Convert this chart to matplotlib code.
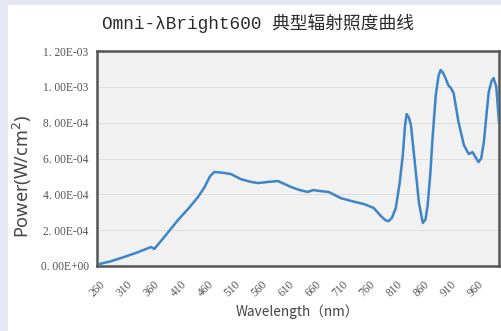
import matplotlib
matplotlib.use("Agg")
import matplotlib.pyplot as plt
from matplotlib.ticker import FuncFormatter, FixedLocator
from matplotlib.patches import Rectangle

wavelength = [260, 280, 306, 330, 356, 362, 380, 406, 425, 443, 455, 465, 473, 490, 504,
              522, 540, 554, 575, 591, 605, 615, 630, 646, 656, 670, 685, 707, 730, 750,
              768, 781, 790, 796, 802, 809, 816, 822, 826, 829, 833, 837, 846, 852, 859,
              864, 868, 873, 877, 883, 888, 892, 896, 901, 906, 911, 916, 925, 935, 944,
              951, 956, 962, 967, 972, 977, 981, 986, 990, 995, 1000]
power_e4 = [0.11, 0.25, 0.50, 0.75, 1.06, 0.95, 1.6, 2.57, 3.2, 3.85, 4.4, 5.0, 5.25, 5.2, 5.13,
            4.85, 4.7, 4.63, 4.7, 4.74, 4.55, 4.41, 4.25, 4.13, 4.24, 4.18, 4.13, 3.79, 3.6, 3.46,
            3.24, 2.8, 2.55, 2.51, 2.7, 3.24, 4.6, 6.2, 7.8, 8.48, 8.3, 7.87, 5.25, 3.5, 2.4,
            2.6, 3.4, 5.2, 7.14, 9.54, 10.6, 10.94, 10.8, 10.49, 10.1, 9.93, 9.65, 8.04, 6.75, 6.25,
            6.36, 6.1, 5.8, 6.0, 6.92, 8.5, 9.71, 10.3, 10.49, 10.0, 8.0]
power = [v * 1e-4 for v in power_e4]

x_ticks = list(range(260, 961, 50))
y_ticks = [0, 2e-4, 4e-4, 6e-4, 8e-4, 1e-3, 1.2e-3]

title = "Omni-λBright600 典型辐射照度曲线"
xlabel = "Wavelength（nm）"
ylabel = "Power(W/cm$^2$)"

fig = plt.figure(figsize=(5.02, 3.31), dpi=100)
fig.patch.set_facecolor("#e6e8f3")
fig.add_artist(Rectangle((8 / 502, 0), 1 - 8 / 502, 1 - 5 / 331,
                         transform=fig.transFigure, facecolor="white",
                         edgecolor="none", zorder=-10))

ax = fig.add_axes([97 / 502, (331 - 266) / 331, 402 / 502, 215 / 331])
ax.set_zorder(2)
ax.set_facecolor("#f1f1f1")
ax.plot(wavelength, power, color="#3d85c6", lw=1.8, zorder=3,
        solid_joinstyle="round")

ax.set_xlim(256, 1000)
ax.set_ylim(0, 1.2e-3)
ax.xaxis.set_major_locator(FixedLocator(x_ticks))
ax.yaxis.set_major_locator(FixedLocator(y_ticks))


def yfmt(v, pos):
    s = f"{v:.2E}"
    return s.replace(".", ". ", 1)


ax.yaxis.set_major_formatter(FuncFormatter(yfmt))
ax.grid(axis="y", color="#dcdcdc", lw=0.6, zorder=1)
ax.tick_params(axis="y", length=0, pad=6)
ax.tick_params(axis="x", length=0, pad=9)
for lab in ax.get_yticklabels():
    lab.set_fontfamily("Liberation Serif")
    lab.set_fontsize(8.3)
    lab.set_color("#555555")
for lab in ax.get_xticklabels():
    lab.set_fontfamily("Liberation Serif")
    lab.set_fontsize(8.3)
    lab.set_color("#555555")
    lab.set_rotation(45)
    lab.set_ha("right")
    lab.set_va("top")
    lab.set_rotation_mode("anchor")

for sp in ax.spines.values():
    sp.set_color("#555555")
    sp.set_linewidth(1.8)

fig.text(258 / 502, 1 - 23 / 331, title, ha="center", va="center", fontsize=12.8,
         family=["Liberation Mono", "Noto Sans CJK SC"], color="#2a2a2a")
fig.text(22 / 502, 1 - 176 / 331, ylabel, ha="center", va="center", rotation=90,
         fontsize=13, family=["Noto Sans", "DejaVu Sans"], color="#444444")
fig.text(297 / 502, 1 - 312 / 331, xlabel, ha="center", va="center", fontsize=9.8,
         family=["Noto Sans CJK SC", "DejaVu Sans"], color="#444444")

fig.savefig("out.png", dpi=100, facecolor=fig.get_facecolor())
